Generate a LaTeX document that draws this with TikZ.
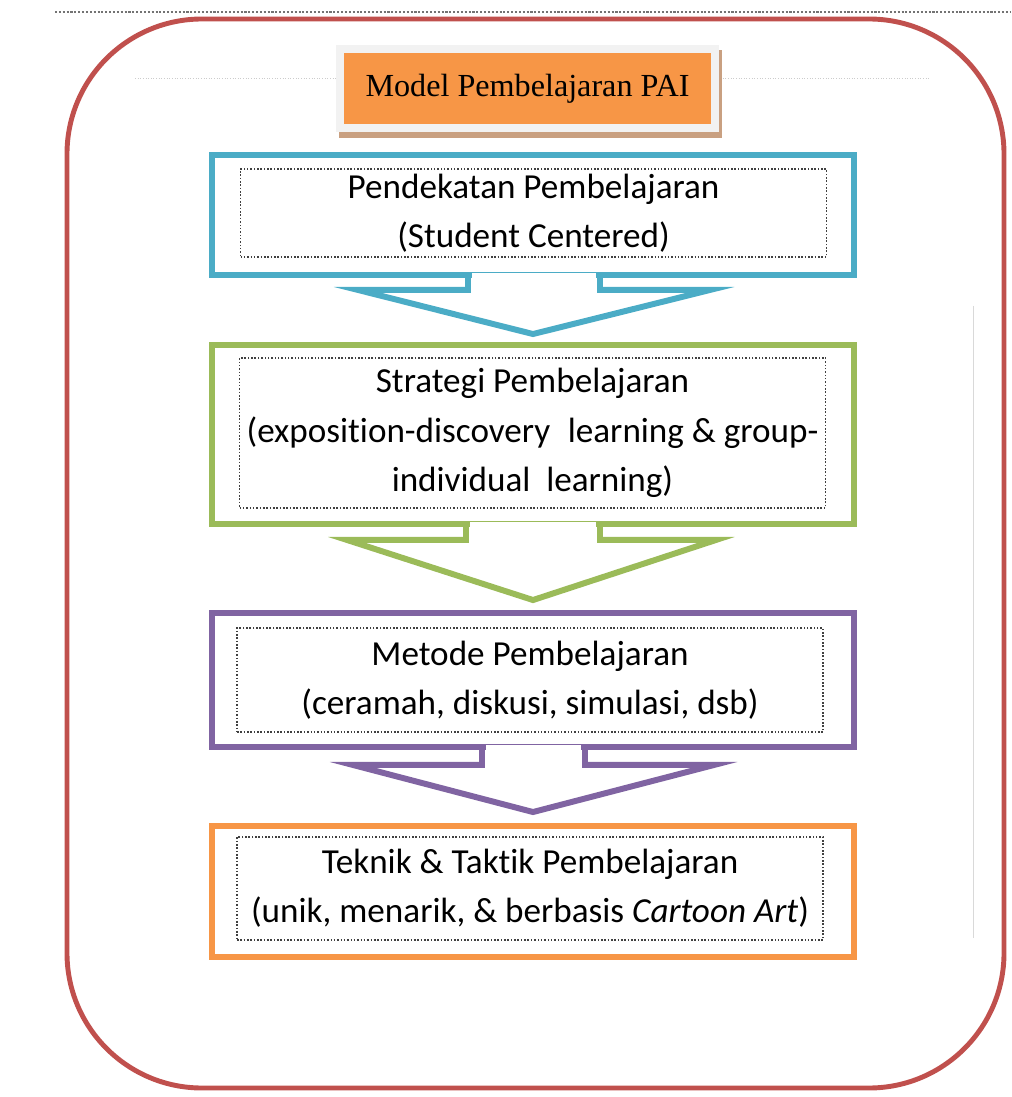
\documentclass[tikz,border=0pt]{standalone}
\usepackage{fontspec}
\setmainfont{Carlito}[Ligatures=NoCommon]
\newfontfamily\titlefont{Liberation Serif}
\usetikzlibrary{calc}
\definecolor{cblue}{HTML}{4BACC6}
\definecolor{cgreen}{HTML}{9BBB59}
\definecolor{cpurple}{HTML}{8064A2}
\definecolor{corange}{HTML}{F79646}
\definecolor{cred}{HTML}{C0504D}
\definecolor{cshadow}{HTML}{C9A081}
\definecolor{cpanel}{HTML}{F2F2F2}
\tikzset{
  stage/.style={draw, line width=3.4pt, minimum width=12.84cm, inner sep=0pt},
  textbox/.style={draw=black!75, densely dotted, line width=0.9pt, minimum width=11.72cm,
    align=center, inner sep=0pt, font=\fontsize{20}{28}\selectfont},
  chevron/.style={line width=3.4pt, line join=miter},
}
\begin{document}
\begin{tikzpicture}[x=0.02cm,y=-0.02cm]
\useasboundingbox (0,0) rectangle (1011,1097);
% page rules and frame
\draw [black!55, densely dotted, line width=1.2pt] (55,12) -- (1011,12);
\draw [black!20, densely dotted, line width=0.5pt] (135,78) -- (929,78);
\draw [black!15, line width=0.5pt] (973,306) -- (973,938);
\draw [cred, line width=2.8pt, rounded corners=2.7cm] (67,19) rectangle (1004,1088);
% title
\fill [cshadow] (339,50) rectangle (722,138);
\fill [cpanel] (336,45) rectangle (719,132);
\node [fill=corange, minimum width=7.34cm, minimum height=1.42cm,
  font=\titlefont\fontsize{18.3}{20}\selectfont] (title) at (527.5,88.5) {Model Pembelajaran PAI};
% stages
\node [stage, draw=cblue, minimum height=2.4cm] (approach) at (533,215) {};
\node [textbox, minimum height=1.76cm] (approachtxt) at (533.5,213) {Pendekatan Pembelajaran\\(Student Centered)};
\node [stage, draw=cgreen, minimum height=3.58cm] (strategy) at (533,434.5) {};
\node [textbox, minimum height=3cm] (strategytxt) at (532.5,433) {Strategi Pembelajaran\\(exposition-discovery\enspace learning \& group-\\individual\ \ learning)};
\node [stage, draw=cpurple, minimum height=2.68cm] (method) at (533,680) {};
\node [textbox, minimum height=2.08cm] (methodtxt) at (530,680) {Metode Pembelajaran\\(ceramah, diskusi, simulasi, dsb)};
\node [stage, draw=corange, minimum height=2.62cm] (technique) at (533,891.5) {};
\node [textbox, minimum height=2.06cm] (techniquetxt) at (530,888.5) {Teknik \& Taktik Pembelajaran\\(unik, menarik, \& berbasis \textit{Cartoon Art})};
% block arrows
\fill [white] ($(approach.south)+(-61,-5)$) rectangle ($(approach.south)+(63,5)$);
\draw [chevron, cblue] ($(approach.south)+(-65,-3)$) -- ($(approach.south)+(-65,12)$) -- ($(approach.south)+(-175,12)$)
  -- ($(strategy.north)+(0,-8)$) -- ($(approach.south)+(177,12)$) -- ($(approach.south)+(67,12)$) -- ($(approach.south)+(67,-3)$);
\fill [white] ($(strategy.south)+(-63,-5)$) rectangle ($(strategy.south)+(63,5)$);
\draw [chevron, cgreen] ($(strategy.south)+(-67,-3)$) -- ($(strategy.south)+(-67,13)$) -- ($(strategy.south)+(-186,13)$)
  -- ($(method.north)+(0,-10)$) -- ($(strategy.south)+(183,13)$) -- ($(strategy.south)+(67,13)$) -- ($(strategy.south)+(67,-3)$);
\fill [white] ($(method.south)+(-47,-5)$) rectangle ($(method.south)+(48,5)$);
\draw [chevron, cpurple] ($(method.south)+(-51,-3)$) -- ($(method.south)+(-51,15)$) -- ($(method.south)+(-180,15)$)
  -- ($(technique.north)+(0,-11)$) -- ($(method.south)+(181,15)$) -- ($(method.south)+(52,15)$) -- ($(method.south)+(52,-3)$);
\end{tikzpicture}
\end{document}
